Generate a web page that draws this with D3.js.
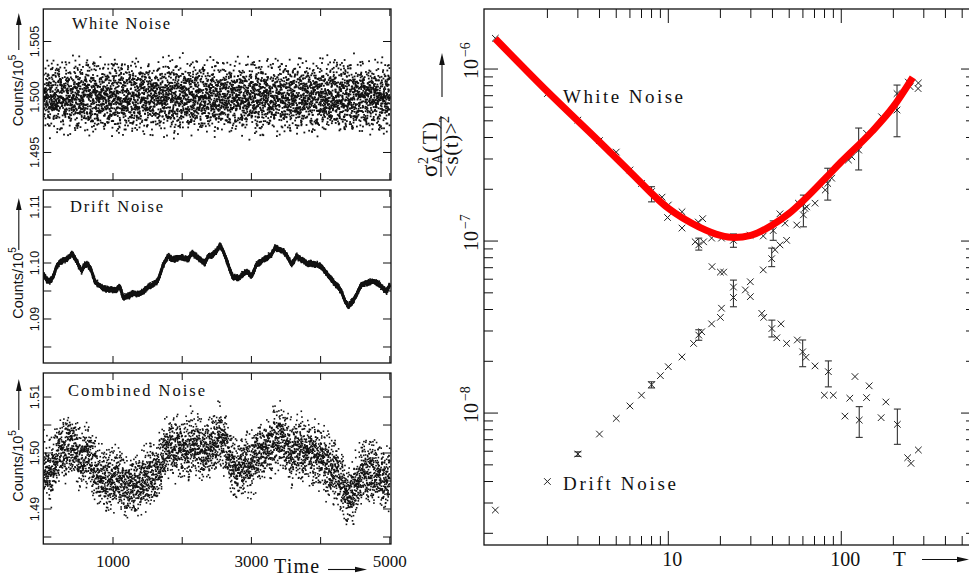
<!DOCTYPE html>
<html><head><meta charset="utf-8">
<script src="https://cdn.jsdelivr.net/npm/d3@7/dist/d3.min.js"></script>
<style>html,body{margin:0;padding:0;background:#fff;} svg{display:block;}</style>
</head><body>
<svg id="chart" width="969" height="577" xmlns="http://www.w3.org/2000/svg"></svg>
<script>
// ================= DATA: left panels (Counts/10^5 vs Time) =================
const timeTicks = [1000, 2000, 3000, 4000, 5000];
const timeTickLabels = [1000, 3000, 5000];
const whiteTicks = [1.495, 1.500, 1.505];
const whiteTickLabels = [1.495, 1.500, 1.505];
const driftTicks = [1.085, 1.09, 1.095, 1.10, 1.105, 1.11];
const driftTickLabels = [1.09, 1.10, 1.11];
const combinedTicks = [1.485, 1.49, 1.495, 1.50, 1.505, 1.51];
const combinedTickLabels = [1.49, 1.50, 1.51];

// drift noise curve
const driftTime = [0,41,90,138,186,234,282,330,378,402,
  450,499,547,595,643,691,739,787,859,955,
  1052,1100,1148,1220,1292,1365,1437,1509,1581,1654,
  1726,1798,1870,1942,2015,2087,2135,2207,2279,2327,
  2376,2448,2496,2544,2592,2640,2689,2737,2809,2881,
  2929,3001,3074,3146,3218,3290,3338,3411,3459,3507,
  3579,3651,3723,3796,3868,3940,4012,4084,4157,4229,
  4301,4349,4397,4469,4542,4590,4662,4734,4806,4879,
  4951,4999];
const driftValue = [1.0979,1.0970,1.0967,1.0976,1.0994,1.1002,1.1004,1.1008,1.1012,1.1017,
  1.1009,1.0997,1.0986,1.0997,1.0997,1.0985,1.0967,1.0961,1.0955,1.0952,
  1.0952,1.0958,1.0938,1.0941,1.0946,1.0944,1.0949,1.0958,1.0961,1.0970,
  1.0997,1.1012,1.1006,1.1010,1.1009,1.1006,1.1018,1.1012,1.1004,1.1000,
  1.1012,1.1015,1.1021,1.1032,1.1021,1.1006,1.0988,1.0974,1.0973,1.0980,
  1.0985,1.0976,1.0997,1.1003,1.1009,1.1015,1.1027,1.1024,1.1021,1.1015,
  1.0997,1.1012,1.1006,1.1000,1.0999,1.0997,1.0994,1.0982,1.0970,1.0961,
  1.0949,1.0933,1.0923,1.0932,1.0949,1.0962,1.0964,1.0967,1.0966,1.0958,
  1.0949,1.0961];
const sampleCount = 5000;
const whiteLevel = 1.500;
const whiteSigma = 0.00135;
const driftJitterSigma = 0.00022;
const combinedOffset = 0.400;
const combinedSigma = 0.0024;
// stored table of noise digits (used to scatter the individual samples)
const noiseDigits = "4829103756 2918374650 7719302845 6610294837 5581920374 0938475612 2847561093 8392017465 1109283746 6654019283 " +
  "7281930465 9302817456 1198273640 5567382910 4402918375 8839201746 3310928475 2276548190 9901827365 6638291047 " +
  "1029384756 5564738291 8812093745 4471829036 2290317564 7736251908 3345098127 9918273640 6627183945 0054938271 " +
  "5512098374 8837162954 2209183746 6645382910 1178293046 4419028375 7790213846 3356172809 9923810475 0068273914 " +
  "2281930745 5539018274 8847261930 1106938275 6694102837 3328475109";

// ================= DATA: right panel (Allan variance vs T) =================
const whiteT = [1,2,3,4,5,6,7,8,9.2,10, 12,14.3,15,16,17.9,20,20.9,23.8,27.9,29.8,
  34.7,35.6,39.7,42.4,44.8,48.3,55.7,59.8,62.5,70.5, 84.2,79.8,89.9,105,112,120,127,140,145,170,
  181,211,242,253,279];
const whiteV = [1.51e-6,7.2e-7,5.05e-7,3.84e-7,3.29e-7,2.59e-7,2.16e-7,1.94e-7,1.80e-7,1.62e-7,
  1.19e-7,9.9e-8,9.5e-8,9.9e-8,7.1e-8,6.6e-8,6.6e-8,5.4e-8,5.2e-8,4.75e-8,
  3.8e-8,3.6e-8,3.1e-8,2.74e-8,3.3e-8,2.54e-8,2.66e-8,2.27e-8,2.11e-8,1.88e-8,
  1.74e-8,1.27e-8,1.27e-8,9.6e-9,1.22e-8,1.63e-8,9.1e-9,1.23e-8,1.44e-8,9.4e-9,
  1.16e-8,8.6e-9,5.5e-9,5.1e-9,6.1e-9];
const driftT = [1,2,3,4,5,6,7,8,9,10, 12,14,15,15.6,17.8,20,20.3,23.8,29.8,35.4,
  39.6,41.4,44.2,48.3,61.6,70.5,80.8,88,110,140, 171,244,278];
const driftV = [2.73e-9,4.0e-9,5.78e-9,7.55e-9,9.3e-9,1.1e-8,1.27e-8,1.46e-8,1.65e-8,1.86e-8,
  2.12e-8,2.54e-8,2.84e-8,2.97e-8,3.3e-8,3.6e-8,4.07e-8,4.7e-8,5.8e-8,6.8e-8,
  7.9e-8,8.9e-8,9.5e-8,1.01e-7,1.55e-7,1.66e-7,1.98e-7,2.32e-7,2.96e-7,4.23e-7,
  5.28e-7,8.4e-7,7.7e-7];
const combT = [9.9,12,14.9,15.8,17.8,20.3,23.8,29.7,35.4,40.4,44.2,47.3,55.3,60.4,56.5,63.1,83.5,115,126,210,210,250,279];
const combV = [1.37e-7,1.48e-7,1.29e-7,1.35e-7,1.04e-7,1.04e-7,1.01e-7,1.08e-7,1.07e-7,1.15e-7,1.44e-7,1.27e-7,
  1.24e-7,1.42e-7,1.66e-7,1.58e-7,2.16e-7,3.09e-7,3.38e-7,5.78e-7,7.2e-7,7.9e-7,8.3e-7];
const errT  = [8, 15, 23.8, 39.7, 59.8, 84.2, 127, 211, 3, 8, 15, 39.6, 23.8, 40.4, 60.4, 83.5, 126, 210];
const errLo = [1.69e-7,8.86e-8,4.15e-8,2.77e-8,1.86e-8,1.42e-8,7.22e-9,6.58e-9,5.6e-9,1.40e-8,2.65e-8,7.1e-8,9.2e-8,1.01e-7,1.21e-7,1.73e-7,2.59e-7,4.04e-7];
const errHi = [2.07e-7,1.04e-7,5.93e-8,3.47e-8,2.66e-8,2.01e-8,1.09e-8,1.055e-8,5.95e-9,1.52e-8,3.05e-8,9.1e-8,1.10e-7,1.31e-7,1.85e-7,2.65e-7,4.54e-7,8.07e-7];
const fitT = [1,2,4,6,10,15,20,24,30,40,50,60,80,100,150,200,259];
const fitV = [1.5e-6,7.4e-7,3.78e-7,2.53e-7,1.55e-7,1.21e-7,1.08e-7,1.05e-7,1.08e-7,1.24e-7,1.45e-7,1.71e-7,2.29e-7,2.89e-7,4.32e-7,6.04e-7,8.95e-7];
const periodMinorTicks = [2,3,4,5,6,7,8,9,20,30,40,50,60,70,80,90,200,300,400,500];
const periodMajorTicks = [10,100];
const periodTickLabels = ["10","100"];
const varianceExponents = [-8,-7,-6];
const varianceMantissas = [1,2,3,4,5,6,7,8,9];

// ================= DRAWING =================
const svg = d3.select('#chart');
const serif = "'Liberation Serif','Times New Roman',serif";
const sans = "'Liberation Sans',Arial,sans-serif";
const ink = '#111';

const digits = noiseDigits.replace(/\s/g,'').split('').map(Number);
const D1 = digits.slice(0, 397), D2 = digits.slice(60, 449);
function noiseZ(j) {
  const u1 = 10*D1[(3*j) % 397] + D1[(5*j + 17) % 397];
  const u2 = 10*D2[(7*j + 3) % 389] + D2[(11*j + 29) % 389];
  const u3 = 10*D1[(13*j + 41) % 397] + D2[(17*j + 53) % 389];
  return (u1 + u2 + u3 - 148.5) / 50;
}
const driftAt = d3.scaleLinear().domain(driftTime).range(driftValue);
const sampleTimes = d3.range(sampleCount);

const xL = d3.scaleLinear().domain([0, 5017]).range([43.8, 391]);
const leftX0 = 43.3, leftX1 = 391;

function arrowUp(x, y0, y1) {
  svg.append('line').attr('x1', x).attr('x2', x).attr('y1', y0).attr('y2', y1 + 8)
    .attr('stroke', ink).attr('stroke-width', 1.1);
  svg.append('path').attr('d', `M${x},${y1} L${x-2.8},${y1+12} L${x+2.8},${y1+12} Z`).attr('fill', ink);
}
function arrowRight(x0, x1, y) {
  svg.append('line').attr('x1', x0).attr('x2', x1 - 8).attr('y1', y).attr('y2', y)
    .attr('stroke', ink).attr('stroke-width', 1.1);
  svg.append('path').attr('d', `M${x1},${y} L${x1-12},${y-2.8} L${x1-12},${y+2.8} Z`).attr('fill', ink);
}

const panels = [
  {id:'w', top:9, bottom:180, domain:[1.49252,1.50793], ticks:whiteTicks, labels:whiteTickLabels, fmt:'.3f',
   title:'White Noise', tx:72, ty:29.3, tlen:98, ylabY:90.5, arrow:[50,13]},
  {id:'d', top:190, bottom:363, domain:[1.08214,1.11304], ticks:driftTicks, labels:driftTickLabels, fmt:'.2f',
   title:'Drift Noise', tx:70, ty:212.3, tlen:93, ylabY:283, arrow:[250,198]},
  {id:'c', top:373, bottom:544, domain:[1.48375,1.51429], ticks:combinedTicks, labels:combinedTickLabels, fmt:'.2f',
   title:'Combined Noise', tx:68, ty:396, tlen:137, ylabY:466, arrow:[430,379]}
];

panels.forEach(p => {
  const y = d3.scaleLinear().domain(p.domain).range([p.bottom, p.top]);
  const defs = svg.append('defs');
  defs.append('clipPath').attr('id', 'clip-' + p.id).append('rect')
    .attr('x', leftX0).attr('y', p.top).attr('width', leftX1 - leftX0).attr('height', p.bottom - p.top);
  const g = svg.append('g').attr('clip-path', `url(#clip-${p.id})`);
  if (p.id === 'w') {
    g.selectAll('rect').data(sampleTimes).join('rect')
      .attr('x', t => xL(t) - 0.9).attr('y', t => y(whiteLevel + whiteSigma*noiseZ(t)) - 0.9)
      .attr('width', 1.8).attr('height', 1.8).attr('fill', ink);
  } else if (p.id === 'd') {
    g.selectAll('rect').data(sampleTimes).join('rect')
      .attr('x', t => xL(t) - 0.8).attr('y', t => y(driftAt(t) + driftJitterSigma*noiseZ(t + 1234)) - 0.8)
      .attr('width', 1.6).attr('height', 1.6).attr('fill', ink);
    g.append('path').datum(driftTime.map((t, i) => [t, driftValue[i]]))
      .attr('d', d3.line().x(d => xL(d[0])).y(d => y(d[1])))
      .attr('fill', 'none').attr('stroke', ink).attr('stroke-width', 3).attr('stroke-linejoin', 'round');
  } else {
    g.selectAll('rect').data(sampleTimes).join('rect')
      .attr('x', t => xL(t) - 0.8).attr('y', t => y(driftAt(t) + combinedOffset + combinedSigma*noiseZ(t + 7919)) - 0.8)
      .attr('width', 1.6).attr('height', 1.6).attr('fill', ink);
  }
  // frame
  svg.append('rect').attr('x', leftX0).attr('y', p.top).attr('width', leftX1 - leftX0).attr('height', p.bottom - p.top)
    .attr('fill', 'none').attr('stroke', ink).attr('stroke-width', 1.3);
  // y ticks both sides
  p.ticks.forEach(v => {
    svg.append('line').attr('x1', leftX0).attr('x2', leftX0 + 8).attr('y1', y(v)).attr('y2', y(v)).attr('stroke', ink).attr('stroke-width', 1);
    svg.append('line').attr('x1', leftX1).attr('x2', leftX1 - 8).attr('y1', y(v)).attr('y2', y(v)).attr('stroke', ink).attr('stroke-width', 1);
  });
  // x ticks top & bottom
  timeTicks.forEach(t => {
    svg.append('line').attr('x1', xL(t)).attr('x2', xL(t)).attr('y1', p.bottom).attr('y2', p.bottom - 7).attr('stroke', ink).attr('stroke-width', 1);
    svg.append('line').attr('x1', xL(t)).attr('x2', xL(t)).attr('y1', p.top).attr('y2', p.top + 7).attr('stroke', ink).attr('stroke-width', 1);
  });
  // y tick labels (rotated)
  p.labels.forEach(v => {
    svg.append('text').attr('transform', `translate(39,${y(v)}) rotate(-90)`)
      .attr('text-anchor', 'middle').attr('font-family', sans).attr('font-size', 12.5).attr('fill', ink)
      .text(d3.format(p.fmt)(v));
  });
  // y axis label
  const lt = svg.append('text').attr('transform', `translate(23,${p.ylabY}) rotate(-90)`)
    .attr('text-anchor', 'middle').attr('font-family', sans).attr('font-size', 14.5).attr('fill', ink);
  lt.append('tspan').text('Counts/10');
  lt.append('tspan').attr('dy', -7).attr('font-size', 10).text('5');
  arrowUp(18.8, p.arrow[0], p.arrow[1]);
  // title
  svg.append('text').attr('x', p.tx).attr('y', p.ty).attr('font-family', serif).attr('font-size', 16.5)
    .attr('textLength', p.tlen).attr('lengthAdjust', 'spacing').attr('fill', ink).text(p.title);
});

// bottom time labels
timeTickLabels.forEach(t => {
  svg.append('text').attr('x', xL(t)).attr('y', 566.5).attr('text-anchor', 'middle')
    .attr('font-family', serif).attr('font-size', 17).attr('fill', ink).text(t);
});
svg.append('text').attr('x', 274).attr('y', 572.5).attr('font-family', serif).attr('font-size', 20)
  .attr('letter-spacing', 1.2).attr('fill', ink).text('Time');
arrowRight(328, 367, 569.5);

// ================= RIGHT PANEL =================
const RX0 = 484, RX1 = 975, RY0 = 9, RY1 = 545;
const xR = d3.scaleLog().domain([0.86, 593]).range([RX0, RX1]);
const yR = d3.scaleLog().domain([1.71e-9, 2.234e-6]).range([RY1, RY0]);

// ticks
periodMinorTicks.concat(periodMajorTicks).forEach(t => {
  const len = periodMajorTicks.includes(t) ? 14 : 9;
  svg.append('line').attr('x1', xR(t)).attr('x2', xR(t)).attr('y1', RY1).attr('y2', RY1 - len).attr('stroke', ink).attr('stroke-width', 1);
  svg.append('line').attr('x1', xR(t)).attr('x2', xR(t)).attr('y1', RY0).attr('y2', RY0 + len).attr('stroke', ink).attr('stroke-width', 1);
});
const yTickVals = [];
[-9, -8, -7].forEach(e => varianceMantissas.forEach(m => yTickVals.push([m * Math.pow(10, e), m === 1])));
yTickVals.push([1e-6, true]);
yTickVals.filter(d => d[0] >= 1.9e-9).forEach(([v, major]) => {
  const len = major ? 14 : 9;
  svg.append('line').attr('x1', RX0).attr('x2', RX0 + len).attr('y1', yR(v)).attr('y2', yR(v)).attr('stroke', ink).attr('stroke-width', 1);
  svg.append('line').attr('x1', RX1).attr('x2', RX1 - len).attr('y1', yR(v)).attr('y2', yR(v)).attr('stroke', ink).attr('stroke-width', 1);
});
svg.append('rect').attr('x', RX0).attr('y', RY0).attr('width', RX1 - RX0).attr('height', RY1 - RY0)
  .attr('fill', 'none').attr('stroke', ink).attr('stroke-width', 1.3);

// tick labels
periodMajorTicks.forEach((t, i) => {
  svg.append('text').attr('x', xR(t) + 4).attr('y', 565.5).attr('text-anchor', 'middle')
    .attr('font-family', serif).attr('font-size', 20).attr('fill', ink).text(periodTickLabels[i]);
});
varianceExponents.forEach(e => {
  const g = svg.append('g').attr('transform', `translate(478,${yR(Math.pow(10, e))}) rotate(-90)`);
  g.append('text').attr('text-anchor', 'middle').attr('font-family', serif).attr('font-size', 20).attr('fill', ink).text('10');
  g.append('text').attr('x', 12).attr('y', -8).attr('font-family', serif).attr('font-size', 14).attr('fill', ink).text('\u2212' + Math.abs(e));
});
svg.append('text').attr('x', 893).attr('y', 566).attr('font-family', serif).attr('font-size', 21).attr('fill', ink).text('T');
arrowRight(922, 969, 559.5);

// y label: sigma_A^2(T) / <s(t)>^2  (rotated; built left-to-right along the rotated axis)
const yl = svg.append('g').attr('transform', 'translate(441,146) rotate(-90)');
yl.append('text').attr('x', -31).attr('y', -4).attr('font-family', serif).attr('font-size', 23).attr('fill', ink).text('\u03C3');
yl.append('text').attr('x', -18).attr('y', -13).attr('font-family', serif).attr('font-size', 14).attr('fill', ink).text('2');
yl.append('text').attr('x', -18).attr('y', 1).attr('font-family', serif).attr('font-size', 14).attr('fill', ink).text('A');
yl.append('text').attr('x', -7).attr('y', -4).attr('font-family', serif).attr('font-size', 22)
  .attr('letter-spacing', 1.5).attr('fill', ink).text('(T)');
yl.append('text').attr('x', -31).attr('y', 17).attr('font-family', serif).attr('font-size', 21)
  .attr('letter-spacing', 0.6).attr('fill', ink).text('<s(t)>');
yl.append('text').attr('x', 23).attr('y', 8).attr('font-family', serif).attr('font-size', 14).attr('fill', ink).text('2');
yl.append('line').attr('x1', -31).attr('x2', 30).attr('y1', 0).attr('y2', 0).attr('stroke', ink).attr('stroke-width', 1.2);
arrowUp(442, 97, 53);

// error bars
const eb = svg.append('g').attr('stroke', '#333').attr('stroke-width', 1.1);
errT.forEach((t, i) => {
  const x = xR(t);
  eb.append('line').attr('x1', x).attr('x2', x).attr('y1', yR(errLo[i])).attr('y2', yR(errHi[i]));
  eb.append('line').attr('x1', x - 3.5).attr('x2', x + 3.5).attr('y1', yR(errLo[i])).attr('y2', yR(errLo[i]));
  eb.append('line').attr('x1', x - 3.5).attr('x2', x + 3.5).attr('y1', yR(errHi[i])).attr('y2', yR(errHi[i]));
});
// markers
const crossPath = 'M-3.3,-3.3L3.3,3.3M-3.3,3.3L3.3,-3.3';
function drawCrosses(T, V) {
  svg.append('g').selectAll('path').data(T.map((t, i) => [t, V[i]])).join('path')
    .attr('transform', d => `translate(${xR(d[0])},${yR(d[1])})`)
    .attr('d', crossPath).attr('fill', 'none').attr('stroke', '#222').attr('stroke-width', 1);
}
drawCrosses(whiteT, whiteV);
drawCrosses(driftT, driftV);
drawCrosses(combT, combV);

// fitted curve
svg.append('path').datum(fitT.map((t, i) => [t, fitV[i]]))
  .attr('d', d3.line().x(d => xR(d[0])).y(d => yR(d[1])).curve(d3.curveMonotoneX))
  .attr('fill', 'none').attr('stroke', '#ff0000').attr('stroke-width', 7);

// in-plot labels
svg.append('text').attr('x', 563).attr('y', 102.7).attr('font-family', serif).attr('font-size', 19)
  .attr('textLength', 120).attr('lengthAdjust', 'spacing').attr('fill', ink).text('White Noise');
svg.append('text').attr('x', 563).attr('y', 490).attr('font-family', serif).attr('font-size', 19)
  .attr('textLength', 113).attr('lengthAdjust', 'spacing').attr('fill', ink).text('Drift Noise');
</script>
</body></html>
